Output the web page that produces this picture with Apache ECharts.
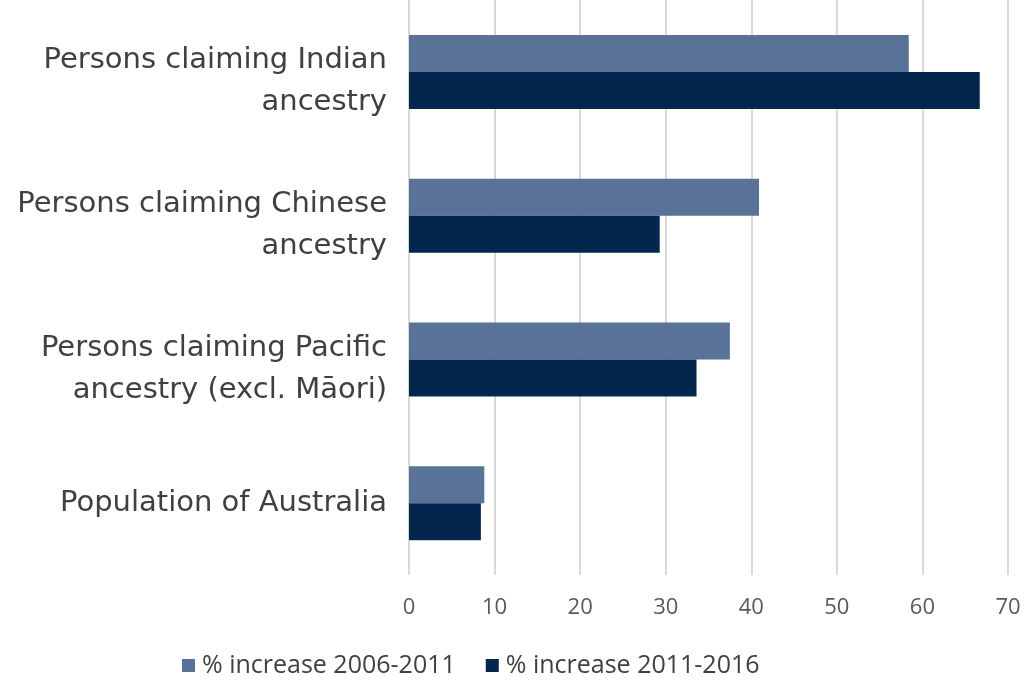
<!DOCTYPE html>
<html>
<head>
<meta charset="utf-8">
<script src="https://cdn.jsdelivr.net/npm/echarts@6/dist/echarts.min.js"></script>
<style>
html,body{margin:0;padding:0;background:#fff;}
#chart{width:1026px;height:691px;}
</style>
</head>
<body>
<div id="chart"></div>
<script>
const categories = [
  "Persons claiming Indian\nancestry",
  "Persons claiming Chinese\nancestry",
  "Persons claiming Pacific\nancestry (excl. Māori)",
  "Population of Australia"
];
const seriesNames = ["% increase 2006-2011", "% increase 2011-2016"];
const increase2006_2011 = [58.4, 40.9, 37.5, 8.8];
const increase2011_2016 = [66.7, 29.3, 33.6, 8.4];
const xTicks = [0, 10, 20, 30, 40, 50, 60, 70];

const chart = echarts.init(document.getElementById('chart'), null, {renderer: 'canvas'});
chart.setOption({
  animation: false,
  backgroundColor: '#ffffff',
  grid: {left: 409, right: 18, top: 0, bottom: 116, containLabel: false},
  legend: {
    left: 177, top: 648,
    itemWidth: 13, itemHeight: 13, itemGap: 30,
    icon: 'rect',
    textStyle: {fontFamily: 'Open Sans', fontSize: 25, color: '#404040', padding: [0,0,0,2]},
    data: seriesNames
  },
  xAxis: {
    type: 'value', min: xTicks[0], max: xTicks[xTicks.length-1], interval: 10,
    axisLine: {show: false}, axisTick: {show: false},
    splitLine: {show: true, lineStyle: {color: '#d9d9d9', width: 2}},
    axisLabel: {fontFamily: 'Open Sans', fontSize: 22, color: '#595959', margin: 22}
  },
  yAxis: {
    type: 'category', inverse: true, data: categories,
    axisLine: {show: false}, axisTick: {show: false},
    axisLabel: {
      margin: 22, align: 'right',
      formatter: function (v) {
        if (v.indexOf('\n') >= 0) {
          const parts = v.split('\n');
          return '{s|}\n' + parts.map(p => '{a|' + p + '}').join('\n');
        }
        return '{a|' + v + '}';
      },
      rich: {
        s: {lineHeight: 20, fontSize: 8},
        a: {fontFamily: 'DejaVu Sans', fontSize: 29, color: '#404040', lineHeight: 42, align: 'right'}
      }
    }
  },
  series: [
    {name: seriesNames[0], type: 'bar', data: increase2006_2011, barWidth: 37, barGap: '0%',
     itemStyle: {color: '#587397'}},
    {name: seriesNames[1], type: 'bar', data: increase2011_2016, barWidth: 37, barGap: '0%',
     itemStyle: {color: '#03264f'}}
  ]
});
</script>
</body>
</html>
